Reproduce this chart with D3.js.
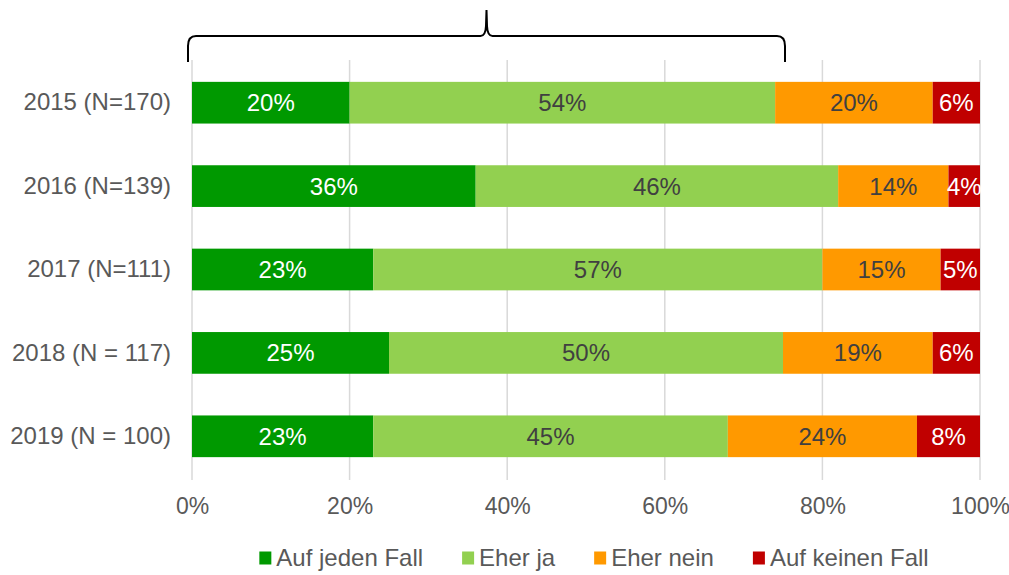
<!DOCTYPE html>
<html><head><meta charset="utf-8">
<script src="https://cdn.jsdelivr.net/npm/d3@7"></script>
<style>body{margin:0;background:#fff;} svg{display:block;font-family:"Liberation Sans",Arial,sans-serif;}</style>
</head><body>
<svg id="c" width="1009" height="575"></svg>
<script>
const categories = ["2015 (N=170)", "2016 (N=139)", "2017 (N=111)", "2018 (N = 117)", "2019 (N = 100)"];
const seriesNames = ["Auf jeden Fall", "Eher ja", "Eher nein", "Auf keinen Fall"];
const aufJedenFall = [20, 36, 23, 25, 23];
const eherJa = [54, 46, 57, 50, 45];
const eherNein = [20, 14, 15, 19, 24];
const aufKeinenFall = [6, 4, 5, 6, 8];
const tickValues = [0, 20, 40, 60, 80, 100];
const braceSpan = [0, 75];

const colors = ["#009900", "#92d050", "#ff9900", "#c00000"];
const labelColors = ["#ffffff", "#404040", "#404040", "#ffffff"];
const seriesValues = [aufJedenFall, eherJa, eherNein, aufKeinenFall];

const svg = d3.select("#c");
const x = d3.scaleLinear().domain([0, 100]).range([192, 980]);
const y = d3.scaleBand().domain(categories).range([61, 478]).paddingInner(0.5).paddingOuter(0.25);

// gridlines
svg.append("g").selectAll("line").data(tickValues).join("line")
  .attr("x1", d => x(d)).attr("x2", d => x(d))
  .attr("y1", 60).attr("y2", 480)
  .attr("stroke", "#d9d9d9").attr("stroke-width", 1.5);

// bars
const rows = categories.map((c, i) => {
  let acc = 0;
  return seriesValues.map((s, k) => { const o = {cat: c, k, v: s[i], x0: acc}; acc += s[i]; return o; });
});
const segs = rows.flat();
svg.append("g").selectAll("rect").data(segs).join("rect")
  .attr("x", d => x(d.x0)).attr("width", d => x(d.x0 + d.v) - x(d.x0))
  .attr("y", d => y(d.cat)).attr("height", y.bandwidth())
  .attr("fill", d => colors[d.k]);
svg.append("g").selectAll("text").data(segs).join("text")
  .attr("x", d => x(d.x0 + d.v / 2)).attr("y", d => y(d.cat) + y.bandwidth() / 2)
  .attr("dy", "0.35em").attr("text-anchor", "middle")
  .attr("font-size", 24).attr("fill", d => labelColors[d.k])
  .text(d => d.v + "%");

// y axis labels
const yAxis = d3.axisLeft(y).tickSize(0).tickPadding(21);
const gy = svg.append("g").attr("transform", `translate(${x(0)},0)`).call(yAxis);
gy.select(".domain").remove();
gy.selectAll("text").attr("font-size", 24).attr("fill", "#595959").attr("font-family", "Liberation Sans, Arial, sans-serif");

// x axis labels
const xAxis = d3.axisBottom(x).tickValues(tickValues).tickFormat(d => d + "%").tickSize(0).tickPadding(0);
const gx = svg.append("g").attr("transform", `translate(0,498)`).call(xAxis);
gx.select(".domain").remove();
gx.selectAll("text").attr("font-size", 23).attr("fill", "#595959").attr("font-family", "Liberation Sans, Arial, sans-serif");

// brace
const bx0 = x(braceSpan[0]) - 4, bx1 = x(braceSpan[1]) + 2, bm = (bx0 + bx1) / 2;
const yb = 62, yh = 36, yt = 10;
const p = d3.path();
p.moveTo(bx0, yb);
p.lineTo(bx0, yh + 10);
p.quadraticCurveTo(bx0, yh, bx0 + 8, yh);
p.lineTo(bm - 6, yh);
p.quadraticCurveTo(bm - 1, yh, bm - 0.5, yh - 10);
p.lineTo(bm, yt);
p.lineTo(bm + 0.5, yh - 10);
p.quadraticCurveTo(bm + 1, yh, bm + 6, yh);
p.lineTo(bx1 - 8, yh);
p.quadraticCurveTo(bx1, yh, bx1, yh + 10);
p.lineTo(bx1, yb);
svg.append("path").attr("d", p.toString()).attr("fill", "none").attr("stroke", "#000").attr("stroke-width", 2);

// legend
const lg = svg.append("g");
const items = lg.selectAll("g").data(seriesNames).join("g");
items.append("rect").attr("width", 12).attr("height", 13).attr("y", -6.5).attr("fill", (d, i) => colors[i]);
items.append("text").attr("x", 17).attr("dy", "0.35em").attr("font-size", 24).attr("fill", "#595959").text(d => d);
const widths = [];
items.each(function () { widths.push(17 + this.querySelector("text").getComputedTextLength()); });
const gap = 39;
const total = d3.sum(widths) + gap * (widths.length - 1);
let start = 594 - total / 2;
items.attr("transform", (d, i) => { const t = `translate(${start},558)`; start += widths[i] + gap; return t; });
</script>
</body></html>
